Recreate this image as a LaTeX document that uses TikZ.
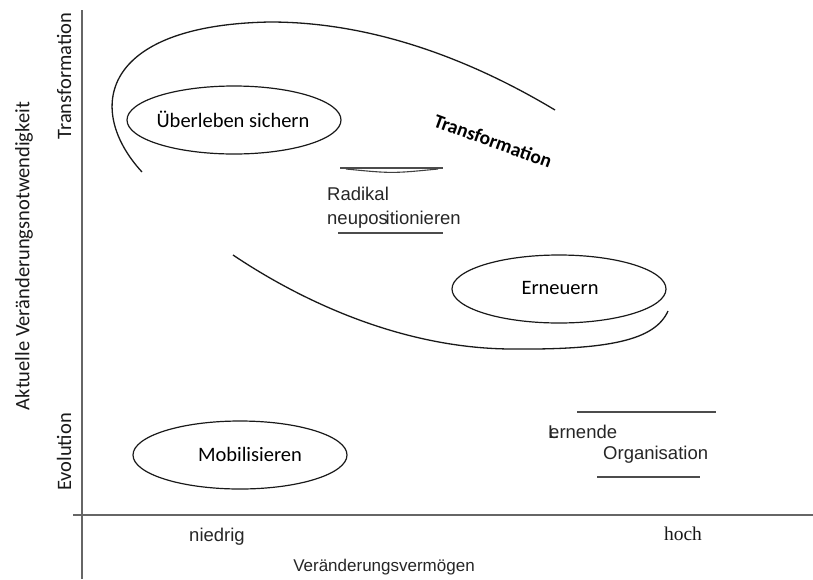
\documentclass[tikz,border=0pt]{standalone}
\usepackage{fontspec}
\setmainfont{Carlito}
\newfontfamily\arialf{Liberation Sans}
\newfontfamily\seriff{Liberation Serif}
\newfontfamily\calf{Carlito}
\usetikzlibrary{shapes.geometric}
\tikzset{
  axisline/.style={draw=black!60, line width=1.6pt},
  bigcurve/.style={draw=black!90, line width=1.3pt},
  oval/.style={ellipse, draw=black!90, line width=1.2pt, minimum width=214pt, minimum height=68pt, inner sep=0pt},
  ovaltext/.style={font=\calf\fontsize{20.5}{24}\selectfont, text=black},
  axlabel/.style={font=\calf\fontsize{20.5}{24}\selectfont, text=black!90, rotate=90},
  arialtext/.style={font=\arialf\fontsize{18.5}{22}\selectfont, text=black!85, inner sep=0pt},
  barline/.style={draw=black!70, line width=1.6pt}
}
\begin{document}
\begin{tikzpicture}[x=1pt,y=-1pt]
\useasboundingbox (0,0) rectangle (813,579);

% axes
\coordinate (yaxT) at (82,10);
\coordinate (yaxB) at (82,579);
\coordinate (xaxL) at (73,515);
\coordinate (xaxR) at (813,515);
\draw[axisline] (yaxT) -- (yaxB);
\draw[axisline] (xaxL) -- (xaxR);

% axis labels
\node[axlabel] (ltrans) at (64,76) {Transformation};
\node[axlabel] (levol) at (64,452) {Evolution};
\node[axlabel] (lakt) at (24,256) {Aktuelle Veränderungsnotwendigkeit};
\node[arialtext, anchor=base] (lnied) at (217,541) {niedrig};
\node[font=\seriff\fontsize{19.5}{22}\selectfont, text=black!90, inner sep=0pt, anchor=base] (lhoch) at (683,540) {hoch};
\node[arialtext, font=\arialf\fontsize{17}{20}\selectfont, anchor=base] (lveran) at (384,571) {Veränderungsvermögen};

% big transformation curve (upper part)
\coordinate (c1) at (142,172);
\coordinate (c2) at (270,22);
\coordinate (c3) at (555,110);
\draw[bigcurve] (c1) .. controls (85,110) and (100,25) .. (c2)
  .. controls (380,22) and (480,65) .. (c3);

% lower part
\coordinate (d1) at (233,255);
\coordinate (d2) at (510,349);
\coordinate (d3) at (668,311);
\draw[bigcurve] (d1) .. controls (300,300) and (400,348) .. (d2)
  .. controls (610,350) and (655,340) .. (d3);

% ellipses
\node[oval] (ueb) at (234,120) {};
\node[ovaltext] (uebt) at (233,119) {Überleben sichern};
\node[oval] (ern) at (559,289) {};
\node[ovaltext] (ernt) at (560,288) {Erneuern};
\node[oval] (mob) at (240,455) {};
\node[ovaltext] (mobt) at (250,454) {Mobilisieren};

% Transformation label
\node[font=\calf\bfseries\fontsize{19.5}{22}\selectfont, text=black, rotate=-20] (trl) at (493,141) {Transformation};

% Radikal neupositionieren
\coordinate (r1) at (340,168);
\coordinate (r2) at (443,168);
\draw[barline] (r1) -- (r2);
\draw[black!75, line width=1.1pt] (346,169) .. controls (392,173.5) .. (438,169);
\coordinate (r3) at (338,233);
\coordinate (r4) at (443,233);
\draw[barline] (r3) -- (r4);
\node[arialtext, anchor=base west] (rad1) at (327,200) {Radikal};
\node[arialtext, anchor=base west] (rad2) at (327,224) {neupos\kern-0.12em itionieren};

% Lernende Organisation
\coordinate (l1) at (577,412);
\coordinate (l2) at (716,412);
\draw[barline] (l1) -- (l2);
\coordinate (l3) at (597,477);
\coordinate (l4) at (700,477);
\draw[barline] (l3) -- (l4);
\node[arialtext, anchor=base west] (lern1) at (548,438) {L\kern-0.5em ernende};
\node[arialtext, anchor=base west] (lern2) at (603,459) {Organisation};
\end{tikzpicture}
\end{document}
